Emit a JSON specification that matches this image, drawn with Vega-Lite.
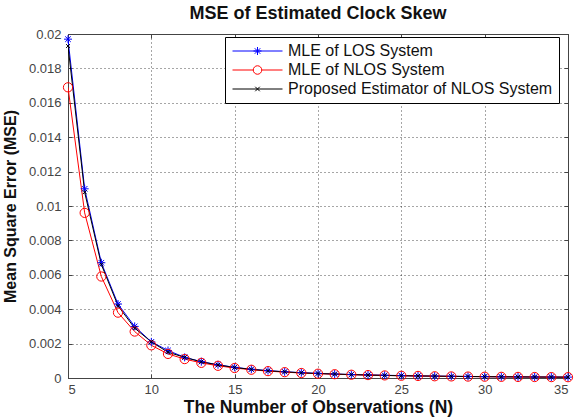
{
  "$schema": "https://vega.github.io/schema/vega-lite/v6.json",
  "width": 500,
  "height": 344,
  "autosize": {"type": "none"},
  "padding": {"left": 68, "top": 34, "right": 7, "bottom": 39},
  "background": "white",
  "title": {
    "text": "MSE of Estimated Clock Skew",
    "font": "Liberation Sans",
    "fontSize": 18,
    "fontWeight": "bold",
    "color": "#111",
    "anchor": "middle",
    "offset": 5
  },
  "data": {
    "values": [
      {"N": 5, "MLE of LOS System": 0.0197, "MLE of NLOS System": 0.0169, "Proposed Estimator of NLOS System": 0.0193},
      {"N": 6, "MLE of LOS System": 0.0110, "MLE of NLOS System": 0.0096, "Proposed Estimator of NLOS System": 0.0108},
      {"N": 7, "MLE of LOS System": 0.0067, "MLE of NLOS System": 0.0059, "Proposed Estimator of NLOS System": 0.0066},
      {"N": 8, "MLE of LOS System": 0.0043, "MLE of NLOS System": 0.0038, "Proposed Estimator of NLOS System": 0.0042},
      {"N": 9, "MLE of LOS System": 0.0030, "MLE of NLOS System": 0.0027, "Proposed Estimator of NLOS System": 0.0029},
      {"N": 10, "MLE of LOS System": 0.0021, "MLE of NLOS System": 0.0019, "Proposed Estimator of NLOS System": 0.0021},
      {"N": 11, "MLE of LOS System": 0.0016, "MLE of NLOS System": 0.0014, "Proposed Estimator of NLOS System": 0.0015},
      {"N": 12, "MLE of LOS System": 0.0012, "MLE of NLOS System": 0.0011, "Proposed Estimator of NLOS System": 0.0012},
      {"N": 13, "MLE of LOS System": 0.00095, "MLE of NLOS System": 0.00088, "Proposed Estimator of NLOS System": 0.00094},
      {"N": 14, "MLE of LOS System": 0.00077, "MLE of NLOS System": 0.00071, "Proposed Estimator of NLOS System": 0.00076},
      {"N": 15, "MLE of LOS System": 0.00062, "MLE of NLOS System": 0.00058, "Proposed Estimator of NLOS System": 0.00061},
      {"N": 16, "MLE of LOS System": 0.00051, "MLE of NLOS System": 0.00048, "Proposed Estimator of NLOS System": 0.00050},
      {"N": 17, "MLE of LOS System": 0.00043, "MLE of NLOS System": 0.00040, "Proposed Estimator of NLOS System": 0.00042},
      {"N": 18, "MLE of LOS System": 0.00036, "MLE of NLOS System": 0.00034, "Proposed Estimator of NLOS System": 0.00036},
      {"N": 19, "MLE of LOS System": 0.00031, "MLE of NLOS System": 0.00029, "Proposed Estimator of NLOS System": 0.00030},
      {"N": 20, "MLE of LOS System": 0.00027, "MLE of NLOS System": 0.00025, "Proposed Estimator of NLOS System": 0.00026},
      {"N": 21, "MLE of LOS System": 0.00023, "MLE of NLOS System": 0.00022, "Proposed Estimator of NLOS System": 0.00023},
      {"N": 22, "MLE of LOS System": 0.00020, "MLE of NLOS System": 0.00019, "Proposed Estimator of NLOS System": 0.00020},
      {"N": 23, "MLE of LOS System": 0.00018, "MLE of NLOS System": 0.00017, "Proposed Estimator of NLOS System": 0.00017},
      {"N": 24, "MLE of LOS System": 0.00016, "MLE of NLOS System": 0.00015, "Proposed Estimator of NLOS System": 0.00015},
      {"N": 25, "MLE of LOS System": 0.00014, "MLE of NLOS System": 0.00013, "Proposed Estimator of NLOS System": 0.00013},
      {"N": 26, "MLE of LOS System": 0.00012, "MLE of NLOS System": 0.00012, "Proposed Estimator of NLOS System": 0.00012},
      {"N": 27, "MLE of LOS System": 0.00011, "MLE of NLOS System": 0.00010, "Proposed Estimator of NLOS System": 0.00011},
      {"N": 28, "MLE of LOS System": 0.00010, "MLE of NLOS System": 0.000092, "Proposed Estimator of NLOS System": 0.000098},
      {"N": 29, "MLE of LOS System": 0.00009, "MLE of NLOS System": 0.000083, "Proposed Estimator of NLOS System": 0.000088},
      {"N": 30, "MLE of LOS System": 0.00008, "MLE of NLOS System": 0.000075, "Proposed Estimator of NLOS System": 0.000079},
      {"N": 31, "MLE of LOS System": 0.00007, "MLE of NLOS System": 0.000068, "Proposed Estimator of NLOS System": 0.000071},
      {"N": 32, "MLE of LOS System": 0.000065, "MLE of NLOS System": 0.000062, "Proposed Estimator of NLOS System": 0.000064},
      {"N": 33, "MLE of LOS System": 0.00006, "MLE of NLOS System": 0.000057, "Proposed Estimator of NLOS System": 0.000059},
      {"N": 34, "MLE of LOS System": 0.000055, "MLE of NLOS System": 0.000052, "Proposed Estimator of NLOS System": 0.000054},
      {"N": 35, "MLE of LOS System": 0.00005, "MLE of NLOS System": 0.000048, "Proposed Estimator of NLOS System": 0.00005}
    ]
  },
  "transform": [
    {"fold": ["MLE of LOS System", "MLE of NLOS System", "Proposed Estimator of NLOS System"], "as": ["System", "MSE"]}
  ],
  "encoding": {
    "x": {
      "field": "N", "type": "quantitative",
      "scale": {"domain": [5, 35], "nice": false, "zero": false},
      "axis": null
    },
    "y": {
      "field": "MSE", "type": "quantitative",
      "scale": {"domain": [0, 0.02], "nice": false},
      "axis": null
    },
    "color": {
      "field": "System", "type": "nominal",
      "scale": {
        "domain": ["MLE of LOS System", "MLE of NLOS System", "Proposed Estimator of NLOS System"],
        "range": ["#0000ff", "#ff0000", "#000000"]
      }
    }
  },
  "layer": [
    {
      "mark": {"type": "line", "strokeWidth": 1, "clip": true},
      "encoding": {
        "x": {
          "field": "N", "type": "quantitative",
          "axis": {
            "orient": "bottom",
            "values": [5, 10, 15, 20, 25, 30, 35],
            "title": "The Number of Observations (N)",
            "titleFont": "Liberation Sans", "titleFontSize": 17.5, "titleFontWeight": "bold", "titleColor": "#111",
            "titlePadding": 2,
            "labelFont": "Liberation Sans", "labelFontSize": 13, "labelColor": "#444",
            "labelPadding": 9, "tickSize": -4, "tickColor": "#444",
            "domainColor": "#444",
            "grid": true, "gridColor": "#000", "gridDash": [1, 3], "gridOpacity": 0.7
          }
        },
        "y": {
          "field": "MSE", "type": "quantitative",
          "axis": {
            "orient": "left",
            "values": [0, 0.002, 0.004, 0.006, 0.008, 0.01, 0.012, 0.014, 0.016, 0.018, 0.02],
            "format": "~g",
            "title": "Mean Square Error (MSE)",
            "titleFont": "Liberation Sans", "titleFontSize": 16, "titleFontWeight": "bold", "titleColor": "#111",
            "titlePadding": 10,
            "labelFont": "Liberation Sans", "labelFontSize": 13, "labelColor": "#444",
            "labelPadding": 11, "tickSize": -4, "tickColor": "#444",
            "domainColor": "#444",
            "grid": true, "gridColor": "#000", "gridDash": [1, 3], "gridOpacity": 0.7
          }
        },
        "color": {
          "field": "System", "type": "nominal",
          "legend": {
            "title": null,
            "orient": "none",
            "legendX": 157,
            "legendY": 3,
            "fillColor": "white",
            "strokeColor": "#000",
            "padding": 6,
            "symbolSize": 2500,
            "symbolStrokeWidth": 1,
            "symbolFillColor": "transparent",
            "symbolOffset": 1,
            "clipHeight": 16,
            "rowPadding": 3,
            "labelOffset": 5,
            "labelFont": "Liberation Sans",
            "labelFontSize": 16,
            "labelColor": "#111",
            "labelLimit": 400,
            "encode": {
              "symbols": {
                "update": {
                  "shape": {"signal": "datum.value === 'MLE of LOS System' ? 'M-1,0L1,0M0,-0.16L0,0.16M-0.16,0L0.16,0M-0.11,-0.11L0.11,0.11M-0.11,0.11L0.11,-0.11' : datum.value === 'MLE of NLOS System' ? 'M-1,0L-0.17,0M0.17,0L1,0M-0.17,0A0.17,0.17 0 1,1 0.17,0A0.17,0.17 0 1,1 -0.17,0' : 'M-1,0L1,0M-0.09,-0.09L0.09,0.09M-0.09,0.09L0.09,-0.09'"},
                  "fill": {"value": "transparent"}
                }
              }
            }
          }
        }
      }
    },
    {
      "transform": [{"filter": "datum.System === 'MLE of LOS System'"}],
      "mark": {"type": "point", "filled": false, "strokeWidth": 1, "opacity": 1, "size": 64, "shape": "M0,-1L0,1M-1,0L1,0M-0.7,-0.7L0.7,0.7M-0.7,0.7L0.7,-0.7"},
      "encoding": {
        "x": {
          "field": "N", "type": "quantitative",
          "axis": {"orient": "top", "values": [5, 10, 15, 20, 25, 30, 35], "labels": false, "title": null, "grid": false, "tickSize": -4, "tickColor": "#444", "domainColor": "#444"}
        },
        "y": {
          "field": "MSE", "type": "quantitative",
          "axis": {"orient": "right", "values": [0, 0.002, 0.004, 0.006, 0.008, 0.01, 0.012, 0.014, 0.016, 0.018, 0.02], "labels": false, "title": null, "grid": false, "tickSize": -4, "tickColor": "#444", "domainColor": "#444"}
        }
      }
    },
    {
      "transform": [{"filter": "datum.System === 'MLE of NLOS System'"}],
      "mark": {"type": "point", "filled": false, "strokeWidth": 1, "opacity": 1, "size": 85, "shape": "circle"}
    },
    {
      "transform": [{"filter": "datum.System === 'Proposed Estimator of NLOS System'"}],
      "mark": {"type": "point", "filled": false, "strokeWidth": 1, "opacity": 1, "size": 40, "shape": "M-0.6,-0.6L0.6,0.6M-0.6,0.6L0.6,-0.6"}
    }
  ],
  "config": {
    "view": {"stroke": "#444", "strokeWidth": 1},
    "axis": {"domainWidth": 1, "tickWidth": 1}
  }
}
